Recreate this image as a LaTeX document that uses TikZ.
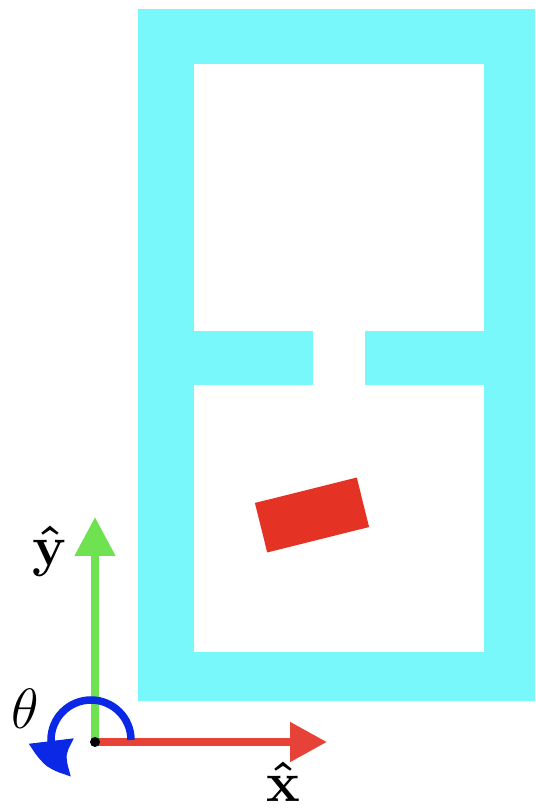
\documentclass[tikz,border=0pt]{standalone}
\usepackage{xcolor}
\usepackage{tikz}
\usetikzlibrary{arrows.meta,bending,positioning}
\definecolor{wallcyan}{RGB}{120,248,250}
\definecolor{boxred}{RGB}{228,50,36}
\definecolor{axisred}{RGB}{230,66,56}
\definecolor{axisgreen}{RGB}{110,226,80}
\definecolor{thetablue}{RGB}{10,40,230}

\begin{document}
\begin{tikzpicture}[
    x=0.02cm, y=0.02cm,
    wall/.style={fill=wallcyan},
    room/.style={fill=white},
    xaxis/.style={-{Triangle[length=0.74cm,width=0.76cm]}, line width=0.16cm, axisred},
    yaxis/.style={-{Triangle[length=0.78cm,width=0.78cm]}, line width=0.16cm, axisgreen},
    thetaarc/.style={-{Triangle[length=0.85cm,width=0.85cm,bend]}, line width=0.15cm, thetablue},
    label/.style={font=\Huge\boldmath, inner sep=0pt, scale=1.3, transform shape}
  ]
    \useasboundingbox (0,0) rectangle (535,809);

    % walls and rooms
    \fill[wall] (138,108) rectangle (535,800);
    \fill[room] (194,478) rectangle (484,745);
    \fill[room] (194,157) rectangle (484,424);
    \fill[room] (313,423) rectangle (365,479);

    % block
    \begin{scope}[shift={(312,294)}, rotate=14]
      \fill[boxred] (-52.5,-25.5) rectangle (52.5,25.5);
    \end{scope}

    % frame
    \coordinate (origin) at (95,67);
    \coordinate (xend) at (327,67);
    \coordinate (yend) at (95,292);
    \draw[xaxis] (origin) -- (xend);
    \draw[yaxis] (origin) -- (yend);
    \draw[thetaarc] ([shift={(36,2)}]origin) arc[start angle=0, end angle=242, radius=40];
    \fill[black] (origin) circle[radius=5];

    \node[label] (ylabel) at (50,258) {$\hat{\mathbf{y}}$};
    \node[label] (xlabel) at (283,27) {$\hat{\mathbf{x}}$};
    \node[label, font=\Huge] (thetalabel) at (25,100) {$\theta$};
  \end{tikzpicture}
\end{document}
